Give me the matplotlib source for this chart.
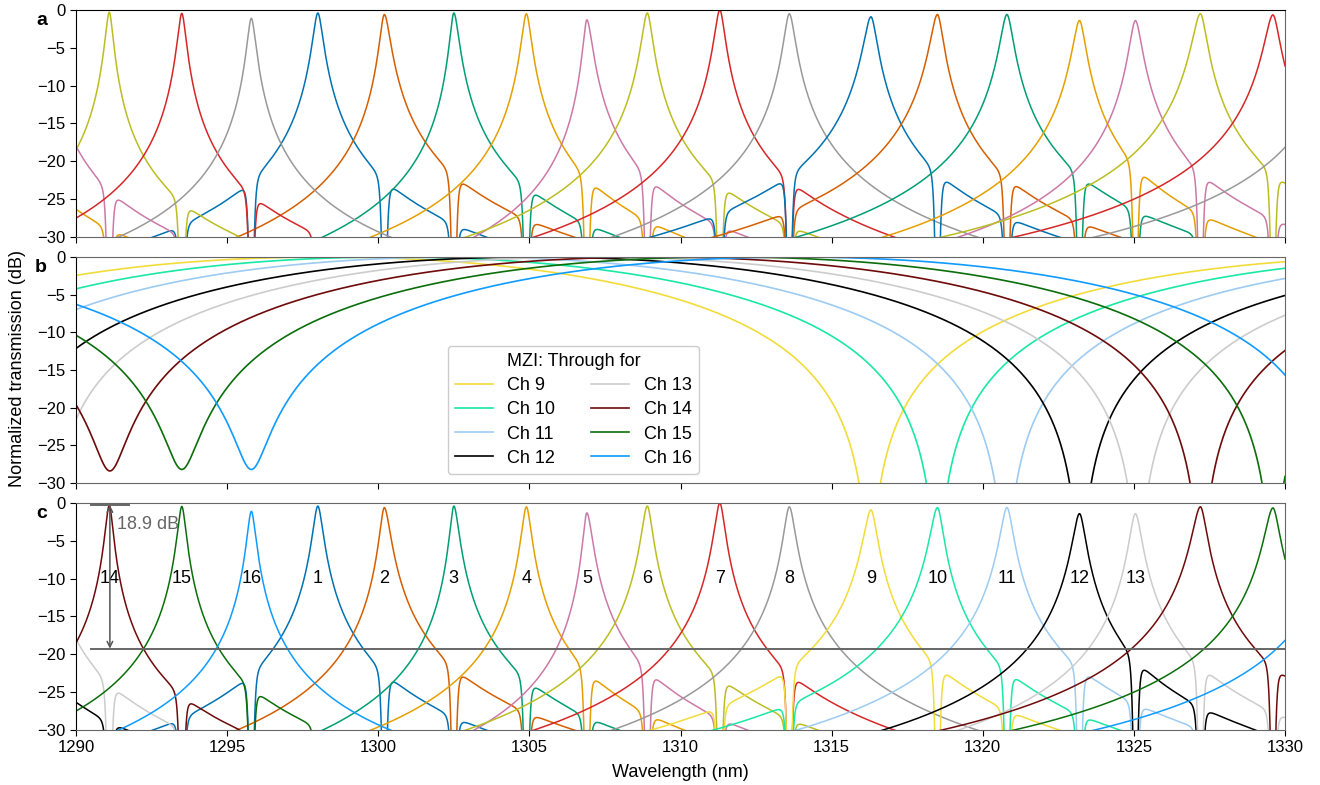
import numpy as np
import matplotlib.pyplot as plt

plt.rcParams['font.family'] = ['Liberation Sans', 'DejaVu Sans']
plt.rcParams['axes.unicode_minus'] = True

FSR = 36.1  # nm, free spectral range of the demux

# measured passbands, one entry per lobe (edge channels come back one FSR later)
lobe_ch = [1, 2, 3, 4, 5, 6, 7, 8, 9, 10, 11, 12, 13, 14, 15, 16, 12, 13, 14, 15, 16]
lobe_nm = [1298.0, 1300.2, 1302.5, 1304.9, 1306.9, 1308.9, 1311.3, 1313.6, 1316.3, 1318.5,
           1320.8, 1323.2, 1325.05, 1291.1, 1293.5, 1295.8, 1287.1, 1288.95, 1327.2, 1329.6, 1331.9]
lobe_pk = [-0.4, -0.6, -0.4, -0.5, -1.3, -0.4, 0.0, -0.5, -0.9, -0.6,
           -0.6, -1.4, -1.4, -0.3, -0.45, -1.1, -1.4, -1.4, -0.5, -0.65, -1.0]
lobe_wl = [0.151, 0.138, 0.12, 0.144, 0.115, 0.166, 0.162, 0.164, 0.214, 0.21,
           0.197, 0.2, 0.18, 0.122, 0.13, 0.129, 0.15, 0.15, 0.236, 0.24, 0.24]
lobe_wr = [0.154, 0.178, 0.151, 0.146, 0.164, 0.156, 0.152, 0.174, 0.183, 0.171,
           0.185, 0.181, 0.19, 0.114, 0.126, 0.133, 0.14, 0.142, 0.188, 0.2, 0.2]

# channels whose peaks cut a notch into each channel's spectrum
notch_ch = {1: [15, 16, 2, 3], 2: [3, 4], 3: [4, 5], 4: [5, 6], 5: [6, 7], 6: [7, 8],
            7: [8], 8: [], 9: [7, 8, 10, 11], 10: [8, 11, 12], 11: [12, 13, 14],
            12: [13, 14, 15], 13: [14, 15], 14: [15, 16], 15: [16, 1], 16: []}

# MZI through ports (panel b)
mzi_ch = [9, 10, 11, 12, 13, 14, 15, 16]
mzi_dip = [1316.26, 1318.49, 1320.76, 1323.23, 1325.14, 1291.12, 1293.5, 1295.8]
mzi_floor = [-45, -45, -45, -45, -45, -28.4, -28.2, -28.2]

# 18.9 dB crosstalk marker in panel c
top_level = -0.27
xt_level = -19.25
xt_text = '18.9 dB'

pal8 = ['#0072B2', '#D55E00', '#009E73', '#E69F00', '#CC79A7', '#BCBD22', '#D62728', '#999999']
col16 = pal8 + ['#F2DC3A', '#1AE8A4', '#9DCBF2', '#000000', '#CCCCCC', '#6E0A0A', '#0B6E0B', '#0F9BFF']

wl = np.linspace(1290, 1330, 8001)


def lobe(c, pk, wleft, wright, q=1.9):
    d = wl - c
    w = np.where(d < 0, wleft, wright)
    return 10 ** (pk / 10) / (1 + (np.abs(d) / w) ** q)


def notch(m, b=0.15):
    r = ((wl - m) / b) ** 4
    return r / (1 + r) + 1e-4


def channel(n):
    T = np.zeros_like(wl)
    for k, c, pk, a, b in zip(lobe_ch, lobe_nm, lobe_pk, lobe_wl, lobe_wr):
        if k == n:
            T += lobe(c, pk, a, b)
    for m in notch_ch[n]:
        for k, c in zip(lobe_ch, lobe_nm):
            if k == m:
                T *= notch(c)
    return 10 * np.log10(T)


def mzi(dip, floor):
    s = np.sin(np.pi * (wl - dip) / FSR) ** 2
    eps = np.where(wl < dip + FSR / 2, 10 ** (floor / 10), 1e-5)
    return 10 * np.log10(s + eps)


fig = plt.figure(figsize=(13.2, 7.85), dpi=100)
L, W = 0.0576, 0.9159
ax_a = fig.add_axes([L, 0.6981, W, 0.2892])
ax_b = fig.add_axes([L, 0.3847, W, 0.2879])
ax_c = fig.add_axes([L, 0.0701, W, 0.2891])

spectra = {n: channel(n) for n in range(1, 17)}

for n in range(1, 17):
    ax_a.plot(wl, spectra[n], color=pal8[(n - 1) % 8], lw=1.1)
    ax_c.plot(wl, spectra[n], color=col16[n - 1], lw=1.1)

for n, d, f in zip(mzi_ch, mzi_dip, mzi_floor):
    ax_b.plot(wl, mzi(d, f), color=col16[n - 1], lw=1.2, label='Ch %d' % n)

leg = ax_b.legend(loc='lower left', bbox_to_anchor=(0.300, 0.0), ncol=2,
                  title='MZI: Through for', fontsize=13, title_fontsize=13,
                  handlelength=2.1, columnspacing=2.0, labelspacing=0.4,
                  framealpha=1, edgecolor='#cccccc')

# channel numbers on panel c
for k, c in zip(lobe_ch[:16], lobe_nm[:16]):
    ax_c.text(c, -10, str(k), ha='center', va='center', fontsize=13)

ax_c.plot([1290.5, 1330], [xt_level, xt_level], color='#666666', lw=1.4)
ax_c.plot([1290.5, 1291.75], [top_level, top_level], color='#666666', lw=1.4)
ax_c.annotate('', xy=(1291.12, xt_level), xytext=(1291.12, top_level),
              arrowprops=dict(arrowstyle='<->', color='#555555', lw=1.1, shrinkA=0, shrinkB=0))
ax_c.text(1291.35, -2.9, xt_text, color='#666666', fontsize=13, va='center', ha='left')

for ax, lab in zip([ax_a, ax_b, ax_c], ['a', 'b', 'c']):
    ax.set_xlim(1290, 1330)
    ax.set_ylim(-30, 0)
    ax.set_yticks(np.arange(-30, 1, 5))
    ax.set_xticks(np.arange(1290, 1331, 5))
    ax.tick_params(direction='out', length=4, labelsize=12)
    for s in ['top', 'right', 'bottom']:
        ax.spines[s].set_color('#666666')
    ax.spines['left'].set_color('black')
    ax.text(-0.024, 0.99, lab, transform=ax.transAxes, fontsize=14,
            fontweight='bold', ha='right', va='top')

ax_a.spines['top'].set_color('black')
ax_a.tick_params(labelbottom=False)
ax_b.tick_params(labelbottom=False)

ax_c.set_xlabel('Wavelength (nm)', fontsize=13, labelpad=6)
fig.text(0.0133, 0.53, 'Normalized transmission (dB)', rotation=90,
         ha='center', va='center', fontsize=13)

fig.savefig('out.png', dpi=100)
